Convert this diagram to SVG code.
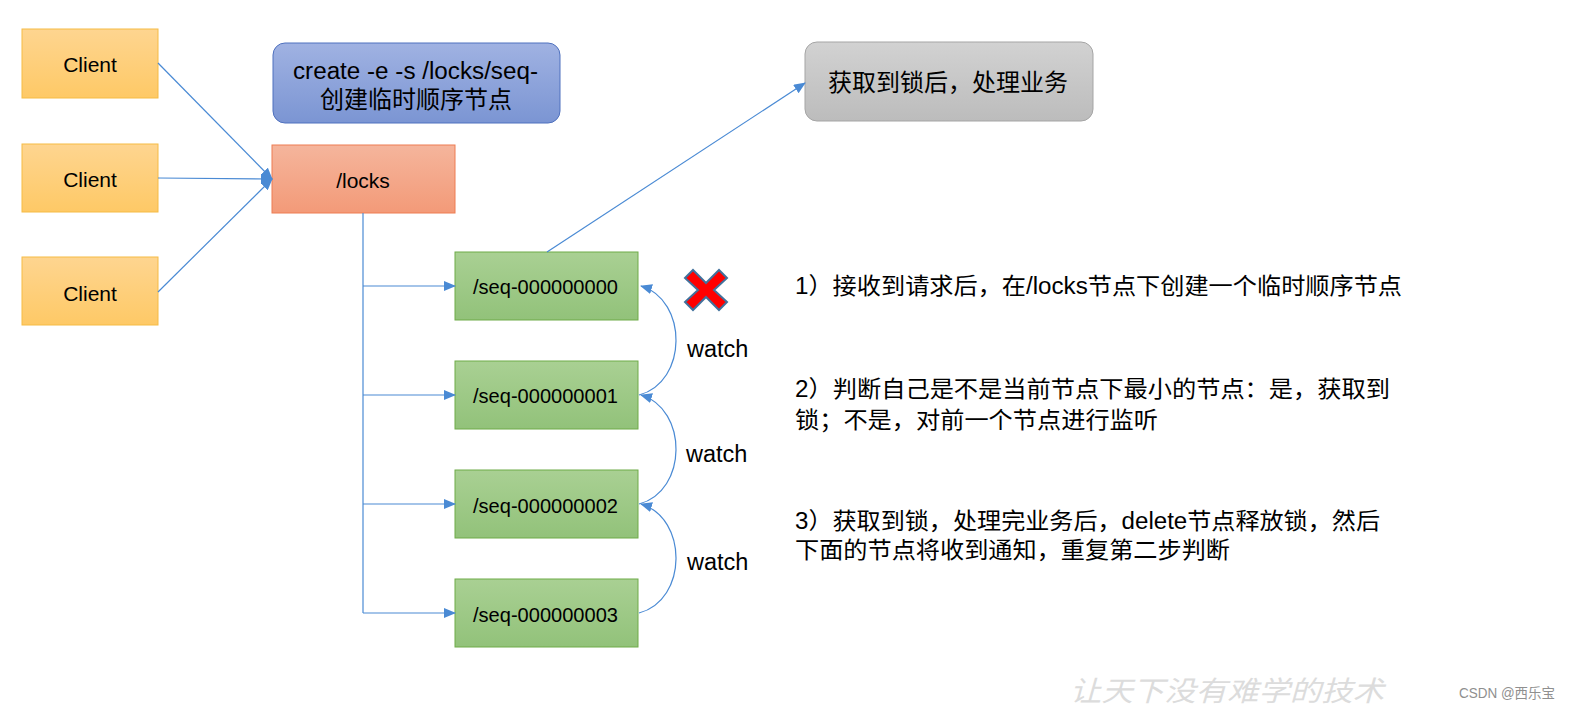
<svg xmlns="http://www.w3.org/2000/svg" width="1576" height="720" viewBox="0 0 1576 720">
<style>
text{font-family:"Liberation Sans","Noto Sans CJK SC",sans-serif;fill:#000}
.c{text-anchor:middle}
.conn{stroke:#4a8ad4;stroke-width:1.2;fill:none}
.note{font-size:23px}
.box{font-size:21px}
</style>
<defs>
<linearGradient id="gy" x1="0" y1="0" x2="0" y2="1"><stop offset="0" stop-color="#fed590"/><stop offset="1" stop-color="#fec966"/></linearGradient>
<linearGradient id="go" x1="0" y1="0" x2="0" y2="1"><stop offset="0" stop-color="#f5b59c"/><stop offset="1" stop-color="#f39a78"/></linearGradient>
<linearGradient id="gb" x1="0" y1="0" x2="0" y2="1"><stop offset="0" stop-color="#a0b2e2"/><stop offset="1" stop-color="#7b95d3"/></linearGradient>
<linearGradient id="gg" x1="0" y1="0" x2="0" y2="1"><stop offset="0" stop-color="#d2d2d2"/><stop offset="1" stop-color="#bcbcbc"/></linearGradient>
<linearGradient id="gn" x1="0" y1="0" x2="0" y2="1"><stop offset="0" stop-color="#a9d093"/><stop offset="1" stop-color="#92c27a"/></linearGradient>
<marker id="ar" viewBox="0 0 12 10" refX="11" refY="5" markerWidth="12" markerHeight="10" markerUnits="userSpaceOnUse" orient="auto"><path d="M0,0 L12,5 L0,10 z" fill="#4a8ad4"/></marker>
</defs>

<g id="client1"><rect x="22" y="29" width="136" height="69" fill="url(#gy)" stroke="#f6bb45"/><text class="c box" x="90" y="72">Client</text></g>
<g id="client2"><rect x="22" y="144" width="136" height="68" fill="url(#gy)" stroke="#f6bb45"/><text class="c box" x="90" y="187">Client</text></g>
<g id="client3"><rect x="22" y="257" width="136" height="68" fill="url(#gy)" stroke="#f6bb45"/><text class="c box" x="90" y="301">Client</text></g>

<g id="cmd"><rect x="273" y="43" width="287" height="80" rx="12" fill="url(#gb)" stroke="#4f71be"/><text x="293" y="79" font-size="23" textLength="245" lengthAdjust="spacingAndGlyphs">create -e -s /locks/seq-</text><text class="c" x="416" y="108" font-size="24">创建临时顺序节点</text></g>

<g id="locks"><rect x="272" y="145" width="183" height="68" fill="url(#go)" stroke="#ee7d52"/><text class="c box" x="363" y="188">/locks</text></g>

<g id="business"><rect x="805" y="42" width="288" height="79" rx="12" fill="url(#gg)" stroke="#a5a5a5"/><text class="c" x="948" y="91" font-size="24">获取到锁后，处理业务</text></g>

<g id="seq0"><rect x="455" y="252" width="183" height="68" fill="url(#gn)" stroke="#6fab48"/><text x="473" y="294" font-size="20.5" textLength="145" lengthAdjust="spacingAndGlyphs">/seq-000000000</text></g>
<g id="seq1"><rect x="455" y="361" width="183" height="68" fill="url(#gn)" stroke="#6fab48"/><text x="473" y="403" font-size="20.5" textLength="145" lengthAdjust="spacingAndGlyphs">/seq-000000001</text></g>
<g id="seq2"><rect x="455" y="470" width="183" height="68" fill="url(#gn)" stroke="#6fab48"/><text x="473" y="513" font-size="20.5" textLength="145" lengthAdjust="spacingAndGlyphs">/seq-000000002</text></g>
<g id="seq3"><rect x="455" y="579" width="183" height="68" fill="url(#gn)" stroke="#6fab48"/><text x="473" y="622" font-size="20.5" textLength="145" lengthAdjust="spacingAndGlyphs">/seq-000000003</text></g>

<g id="connectors">
<path class="conn" d="M158,63 L272,179" marker-end="url(#ar)"/>
<path class="conn" d="M158,178 L272,179" marker-end="url(#ar)"/>
<path class="conn" d="M158,292 L272,179" marker-end="url(#ar)"/>
<path class="conn" d="M363,213 L363,613"/>
<path class="conn" d="M363,286 L455,286" marker-end="url(#ar)"/>
<path class="conn" d="M363,395 L455,395" marker-end="url(#ar)"/>
<path class="conn" d="M363,504 L455,504" marker-end="url(#ar)"/>
<path class="conn" d="M363,613 L455,613" marker-end="url(#ar)"/>
<path class="conn" d="M547,252 L805,83" marker-end="url(#ar)"/>
<path class="conn" d="M639,395 C688,382 688,300 641,286" marker-end="url(#ar)"/>
<path class="conn" d="M639,504 C688,491 688,409 641,395" marker-end="url(#ar)"/>
<path class="conn" d="M639,613 C688,600 688,518 641,504" marker-end="url(#ar)"/>
</g>

<g id="labels">
<text x="687" y="357" font-size="23.5">watch</text>
<text x="686" y="462" font-size="23.5">watch</text>
<text x="687" y="570" font-size="23.5">watch</text>
</g>

<g id="cross"><path d="M685,278 L693,270 L706,283 L719,270 L727,278 L714,290 L727,302 L719,310 L706,297 L693,310 L685,302 L698,290 Z" fill="#ff0000" stroke="#41719c" stroke-width="2"/></g>

<g id="notes">
<text class="note" x="795" y="294" textLength="607" lengthAdjust="spacingAndGlyphs">1）接收到请求后，在/locks节点下创建一个临时顺序节点</text>
<text class="note" x="795" y="397" textLength="595" lengthAdjust="spacingAndGlyphs">2）判断自己是不是当前节点下最小的节点：是，获取到</text>
<text class="note" x="795" y="428" textLength="363" lengthAdjust="spacingAndGlyphs">锁；不是，对前一个节点进行监听</text>
<text class="note" x="795" y="529" textLength="585" lengthAdjust="spacingAndGlyphs">3）获取到锁，处理完业务后，delete节点释放锁，然后</text>
<text class="note" x="795" y="558" textLength="435" lengthAdjust="spacingAndGlyphs">下面的节点将收到通知，重复第二步判断</text>
</g>

<g id="watermark">
<text x="1070" y="701" font-size="28" textLength="314" lengthAdjust="spacingAndGlyphs" style="fill:#dcdcdc;font-style:italic">让天下没有难学的技术</text>
<text x="1459" y="698" font-size="14" textLength="96" lengthAdjust="spacingAndGlyphs" style="fill:#8f8f8f">CSDN @西乐宝</text>
</g>
</svg>
